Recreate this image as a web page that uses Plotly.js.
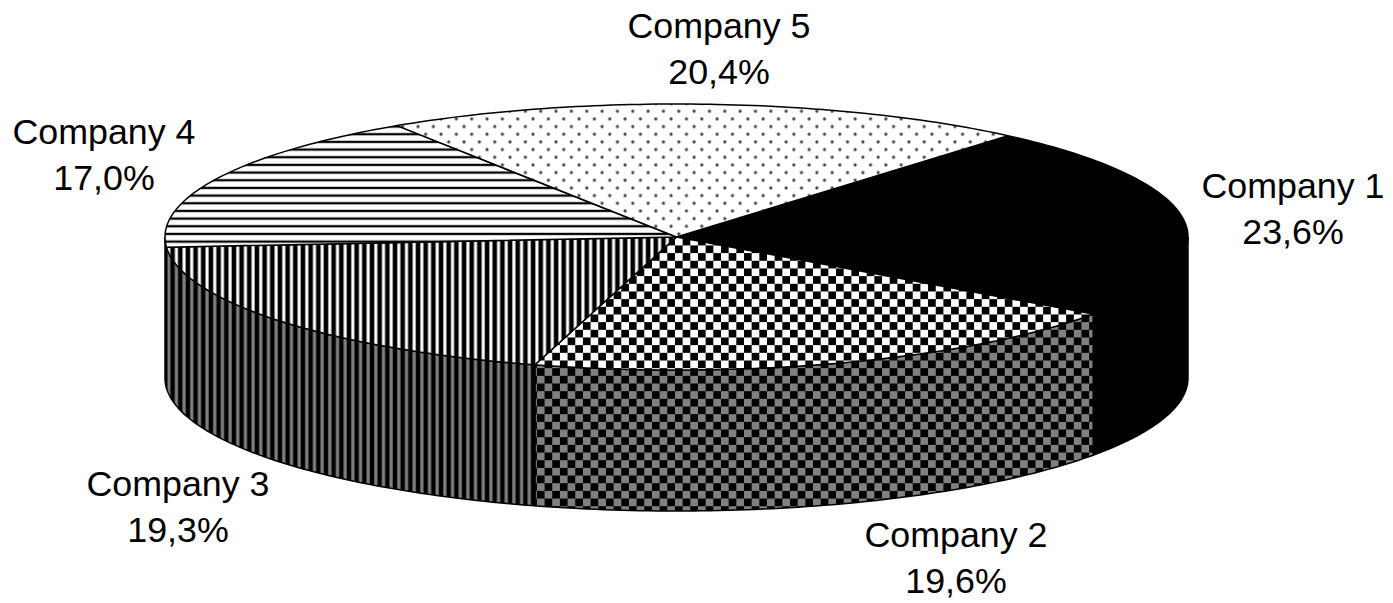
<!DOCTYPE html>
<html>
<head>
<meta charset="utf-8">
<script src="https://cdn.plot.ly/plotly-3.0.1.min.js"></script>
<style>html,body{margin:0;padding:0;background:#fff}#chart{width:1393px;height:603px}</style>
</head>
<body>
<div id="chart"></div>
<script>
var categories = ['Company 1', 'Company 2', 'Company 3', 'Company 4', 'Company 5'];
var shares = [23.6, 19.6, 19.3, 17.0, 20.4];

// Pie projection, in the page-pixel coordinate system of the axes below
var geo = {cx: 676.5, cy: 237, rx: 511.5, ry: 133, depth: 141, startDeg: 40.4};
var labelX = [1293, 956, 178, 104, 719];
var labelY = [212, 561, 510, 158, 52];

var CELL = 7.67, TILE = 15.34;
var topStyle = [
  {shape: '', bgcolor: '#000000'},
  {shape: 'x', size: TILE, solidity: 0.5, fgcolor: '#000000', bgcolor: '#ffffff'},
  {shape: '|', size: CELL, solidity: 0.6, fgcolor: '#000000', bgcolor: '#ffffff'},
  {shape: '-', size: CELL, solidity: 0.3, fgcolor: '#000000', bgcolor: '#ffffff'},
  {shape: '.', size: TILE, solidity: 0.05, fgcolor: '#444444', bgcolor: '#ffffff'}
];
var sideStyle = [
  {shape: '', bgcolor: '#000000'},
  {shape: 'x', size: TILE, solidity: 0.5, fgcolor: '#000000', bgcolor: '#808080'},
  {shape: '|', size: CELL, solidity: 0.58, fgcolor: '#000000', bgcolor: '#808080'},
  {shape: '-', size: CELL, solidity: 0.4, fgcolor: '#000000', bgcolor: '#808080'},
  {shape: '.', size: TILE, solidity: 0.05, fgcolor: '#000000', bgcolor: '#808080'}
];

function px(a) { return geo.cx + geo.rx * Math.sin(a * Math.PI / 180); }
function py(a) { return geo.cy - geo.ry * Math.cos(a * Math.PI / 180); }
function arc(a0, a1) {
  var n = Math.max(2, Math.ceil(Math.abs(a1 - a0))), out = [];
  for (var i = 0; i <= n; i++) out.push(a0 + (a1 - a0) * i / n);
  return out;
}
function fillOf(s) {
  if (!s.shape) return {fillcolor: s.bgcolor};
  return {fillcolor: s.bgcolor, fillpattern: {shape: s.shape, size: s.size, solidity: s.solidity,
          fgcolor: s.fgcolor, bgcolor: s.bgcolor, fillmode: 'replace'}};
}
function poly(xs, ys, style, name) {
  return Object.assign({
    type: 'scatter', mode: 'lines', x: xs, y: ys, fill: 'toself', name: name,
    line: {color: '#000000', width: 1.5, simplify: false}, hoverinfo: 'skip', showlegend: false
  }, fillOf(style));
}

var total = shares.reduce(function (a, b) { return a + b; }, 0);
var sides = [], tops = [], from = geo.startDeg;
shares.forEach(function (v, i) {
  var to = from + v / total * 360;
  [[from, to], [from - 360, to - 360]].forEach(function (r) {
    var lo = Math.max(r[0], 90), hi = Math.min(r[1], 270);
    if (hi > lo) {
      var a = arc(lo, hi);
      var xs = a.map(px).concat(a.slice().reverse().map(px));
      var ys = a.map(py).concat(a.slice().reverse().map(function (t) { return py(t) + geo.depth; }));
      xs.push(xs[0]); ys.push(ys[0]);
      sides.push(poly(xs, ys, sideStyle[i], categories[i] + ' side'));
    }
  });
  var b = arc(from, to);
  tops.push(poly([geo.cx].concat(b.map(px), [geo.cx]), [geo.cy].concat(b.map(py), [geo.cy]), topStyle[i], categories[i]));
  from = to;
});

var labels = {
  type: 'scatter', mode: 'text', x: labelX, y: labelY, hoverinfo: 'skip', showlegend: false,
  text: categories.map(function (c, i) { return c + '<br>' + shares[i].toFixed(1).replace('.', ',') + '%'; }),
  textposition: 'middle center',
  textfont: {family: '"Liberation Sans", Arial, sans-serif', size: 35.8, color: '#000000'},
  cliponaxis: false
};

var layout = {
  width: 1393, height: 603, margin: {l: 0, r: 0, t: 0, b: 0},
  paper_bgcolor: '#ffffff', plot_bgcolor: '#ffffff', showlegend: false,
  xaxis: {range: [0, 1393], visible: false, fixedrange: true},
  yaxis: {range: [603, 0], visible: false, fixedrange: true}
};

// Plotly has no checkerboard or staggered-dot fill: refine its generated pattern tiles.
function refinePatterns() {
  var NS = 'http://www.w3.org/2000/svg';
  document.querySelectorAll('pattern').forEach(function (p) {
    var w = parseFloat(p.getAttribute('width'));
    var isChecker = Math.abs(w - TILE * Math.SQRT2) < 0.05;
    var isDots = Math.abs(w - TILE) < 0.01;
    if (!isChecker && !isDots) return;
    var bgRect = p.querySelector('rect');
    var bg = '#ffffff';
    if (bgRect) bg = bgRect.getAttribute('fill') || bgRect.style.fill || bg;
    else bg = p.style.fill || bg;
    function add(tag, attrs) {
      var el = document.createElementNS(NS, tag);
      Object.keys(attrs).forEach(function (k) { el.setAttribute(k, attrs[k]); });
      el.style.fill = attrs.fill;
      p.appendChild(el);
    }
    while (p.firstChild) p.removeChild(p.firstChild);
    p.removeAttribute('patternTransform');
    p.setAttribute('width', TILE); p.setAttribute('height', TILE);
    add('rect', {x: 0, y: 0, width: TILE, height: TILE, fill: bg});
    if (isChecker) {
      add('rect', {x: 0, y: 0, width: CELL, height: CELL, fill: '#000000'});
      add('rect', {x: CELL, y: CELL, width: CELL, height: CELL, fill: '#000000'});
    } else {
      add('circle', {cx: CELL / 2, cy: CELL / 2, r: 1.6, fill: '#444444'});
      add('circle', {cx: CELL * 1.5, cy: CELL * 1.5, r: 1.6, fill: '#444444'});
    }
  });
}

var gd = document.getElementById('chart');
Plotly.newPlot(gd, sides.concat(tops, [labels]), layout, {displayModeBar: false, staticPlot: true})
  .then(function () { refinePatterns(); });
</script>
</body>
</html>
